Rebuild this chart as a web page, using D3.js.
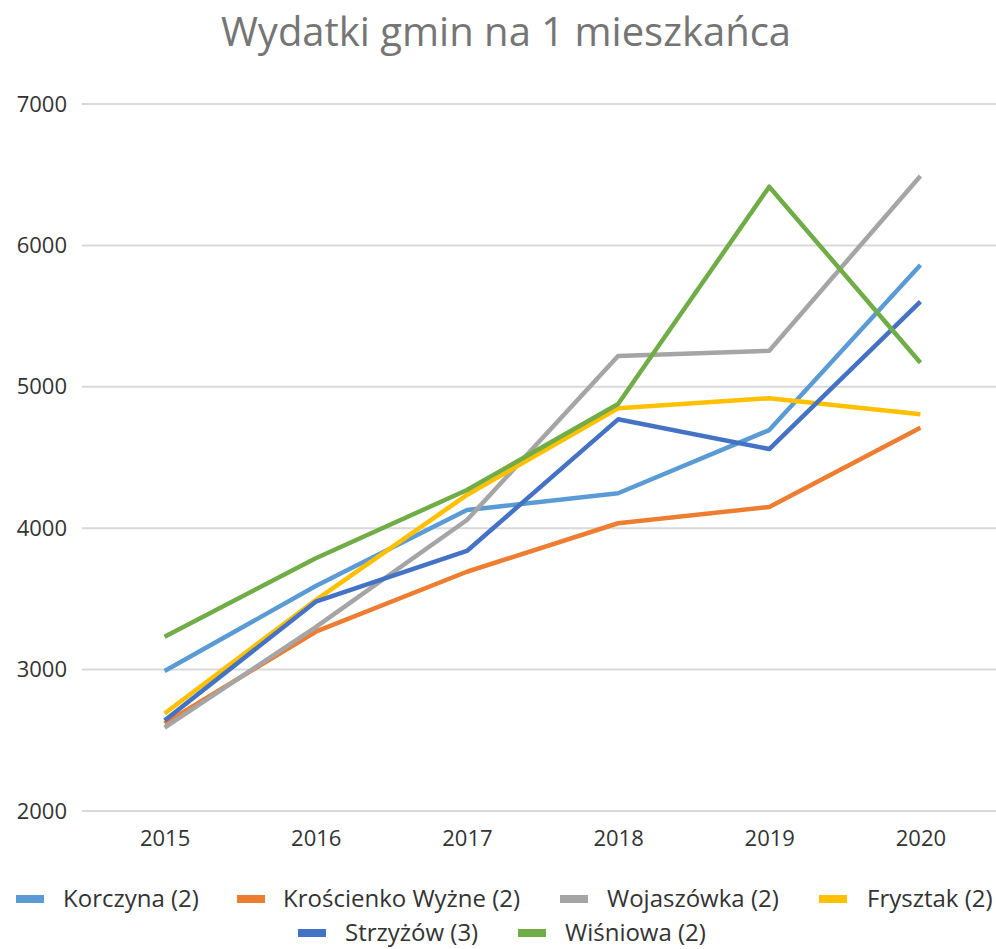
<!DOCTYPE html>
<html>
<head>
<meta charset="utf-8">
<script src="https://cdn.jsdelivr.net/npm/d3@7"></script>
<style>
  body { margin: 0; background: #fff; }
  svg { display: block; font-family: "Open Sans", sans-serif; }
</style>
</head>
<body>
<svg id="chart" width="996" height="949"></svg>
<script>
// dane
var years = ["2015", "2016", "2017", "2018", "2019", "2020"];
var seriesNames = ["Korczyna (2)", "Krościenko Wyżne (2)", "Wojaszówka (2)", "Frysztak (2)", "Strzyżów (3)", "Wiśniowa (2)"];
var korczyna = [2990, 3591, 4128, 4247, 4694, 5861];
var kroscienko = [2620, 3268, 3692, 4035, 4150, 4711];
var wojaszowka = [2590, 3300, 4058, 5218, 5255, 6491];
var frysztak = [2690, 3492, 4235, 4848, 4919, 4806];
var strzyzow = [2640, 3480, 3839, 4770, 4560, 5602];
var wisniowa = [3233, 3787, 4270, 4878, 6415, 5170];
var yTicks = [2000, 3000, 4000, 5000, 6000, 7000];
var colors = ["#5B9BD5", "#ED7D31", "#A5A5A5", "#FFC000", "#4472C4", "#70AD47"];

var allValues = [korczyna, kroscienko, wojaszowka, frysztak, strzyzow, wisniowa];
var series = seriesNames.map(function(name, i){
  return { name: name, color: colors[i], values: allValues[i] };
});

var svg = d3.select("#chart");

var x = d3.scalePoint()
  .domain(years)
  .range([89, 996])
  .padding(0.5);

var y = d3.scaleLinear()
  .domain([2000, 7000])
  .range([811, 104]);

// tytuł
svg.append("text")
  .attr("x", 506)
  .attr("y", 46)
  .attr("text-anchor", "middle")
  .attr("font-size", 40)
  .attr("fill", "#757575")
  .text("Wydatki gmin na 1 mieszkańca");

// siatka
svg.append("g")
  .selectAll("line")
  .data(yTicks)
  .enter().append("line")
  .attr("x1", 82)
  .attr("x2", 996)
  .attr("y1", function(d){ return y(d); })
  .attr("y2", function(d){ return y(d); })
  .attr("stroke", "#d9d9d9")
  .attr("stroke-width", 2);

// oś Y
var yAxis = svg.append("g")
  .attr("transform", "translate(67,0)")
  .call(d3.axisLeft(y).tickValues(yTicks).tickFormat(d3.format("d")).tickSize(0).tickPadding(0));
yAxis.select(".domain").remove();
yAxis.selectAll("text")
  .attr("font-family", "Open Sans, sans-serif")
  .attr("font-size", 22)
  .attr("fill", "#333");

// oś X
var xAxis = svg.append("g")
  .call(d3.axisBottom(x).tickSize(0).tickPadding(0));
xAxis.select(".domain").remove();
xAxis.selectAll("text")
  .attr("y", 846)
  .attr("dy", 0)
  .attr("font-family", "Open Sans, sans-serif")
  .attr("font-size", 22)
  .attr("fill", "#333");

// linie
var line = d3.line()
  .x(function(d, i){ return x(years[i]); })
  .y(function(d){ return y(d); });

svg.append("g")
  .selectAll("path")
  .data(series)
  .enter().append("path")
  .attr("fill", "none")
  .attr("stroke", function(d){ return d.color; })
  .attr("stroke-width", 4.5)
  .attr("stroke-linejoin", "round")
  .attr("d", function(d){ return line(d.values); });

// legenda
var legendPos = [
  { sx: 16, tx: 63, y: 899 },
  { sx: 237, tx: 283, y: 899 },
  { sx: 560, tx: 607, y: 899 },
  { sx: 819, tx: 867, y: 899 },
  { sx: 298, tx: 345, y: 933 },
  { sx: 518, tx: 565, y: 933 }
];

var legend = svg.append("g")
  .selectAll("g")
  .data(series)
  .enter().append("g");

legend.append("rect")
  .attr("x", function(d, i){ return legendPos[i].sx; })
  .attr("y", function(d, i){ return legendPos[i].y - 4; })
  .attr("width", 28)
  .attr("height", 8)
  .attr("fill", function(d){ return d.color; });

legend.append("text")
  .attr("x", function(d, i){ return legendPos[i].tx; })
  .attr("y", function(d, i){ return legendPos[i].y; })
  .attr("dy", "0.35em")
  .attr("font-size", 24)
  .attr("fill", "#333")
  .text(function(d){ return d.name; });
</script>
</body>
</html>
